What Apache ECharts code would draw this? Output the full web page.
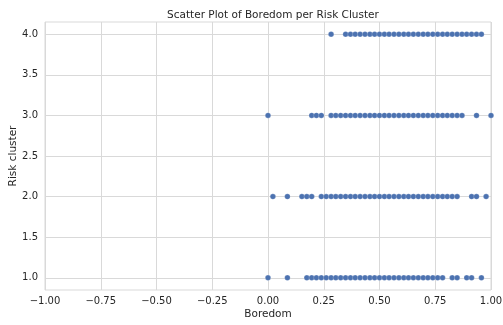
<!DOCTYPE html>
<html>
<head>
<meta charset="utf-8">
<script src="https://cdn.jsdelivr.net/npm/echarts@6/dist/echarts.min.js"></script>
<style>
  html, body { margin: 0; padding: 0; background: #ffffff; }
  #chart { width: 503px; height: 325px; }
</style>
</head>
<body>
<div id="chart"></div>
<script>
// Boredom scores observed in each risk cluster
const cluster1 = [0.0, 0.087, 0.174, 0.196, 0.217, 0.239, 0.261, 0.283, 0.304, 0.326, 0.348, 0.370, 0.391, 0.413, 0.435, 0.457, 0.478, 0.500, 0.522, 0.543, 0.565, 0.587, 0.609, 0.630, 0.652, 0.674, 0.696, 0.717, 0.739, 0.761, 0.783, 0.826, 0.848, 0.891, 0.913, 0.957];
const cluster2 = [0.022, 0.087, 0.152, 0.174, 0.196, 0.239, 0.261, 0.283, 0.304, 0.326, 0.348, 0.370, 0.391, 0.413, 0.435, 0.457, 0.478, 0.500, 0.522, 0.543, 0.565, 0.587, 0.609, 0.630, 0.652, 0.674, 0.696, 0.717, 0.739, 0.761, 0.783, 0.804, 0.826, 0.848, 0.913, 0.935, 0.978];
const cluster3 = [0.0, 0.196, 0.217, 0.239, 0.283, 0.304, 0.326, 0.348, 0.370, 0.391, 0.413, 0.435, 0.457, 0.478, 0.500, 0.522, 0.543, 0.565, 0.587, 0.609, 0.630, 0.652, 0.674, 0.696, 0.717, 0.739, 0.761, 0.783, 0.804, 0.826, 0.848, 0.870, 0.935, 1.0];
const cluster4 = [0.283, 0.348, 0.370, 0.391, 0.413, 0.435, 0.457, 0.478, 0.500, 0.522, 0.543, 0.565, 0.587, 0.609, 0.630, 0.652, 0.674, 0.696, 0.717, 0.739, 0.761, 0.783, 0.804, 0.826, 0.848, 0.870, 0.891, 0.913, 0.935, 0.957];
const clusters = [1, 2, 3, 4];
const xTicks = [-1.0, -0.75, -0.5, -0.25, 0.0, 0.25, 0.5, 0.75, 1.0];
const yTicks = [1.0, 1.5, 2.0, 2.5, 3.0, 3.5, 4.0];

const points = [];
[cluster1, cluster2, cluster3, cluster4].forEach((vals, i) => {
  vals.forEach(v => points.push([v, clusters[i]]));
});

const textColor = '#262626';
const gridColor = '#d9d9d9';
const font = 'DejaVu Sans';

const chart = echarts.init(document.getElementById('chart'), null, { renderer: 'canvas' });
chart.setOption({
  animation: false,
  backgroundColor: '#ffffff',
  title: {
    text: 'Scatter Plot of Boredom per Risk Cluster',
    left: 268, top: 5, textAlign: 'center',
    textStyle: { fontFamily: font, fontSize: 10.5, fontWeight: 'normal', color: textColor }
  },
  grid: {
    left: 45, right: 12, top: 22, bottom: 35,
    outerBoundsMode: 'none', containLabel: false,
    show: true, borderColor: gridColor, borderWidth: 1
  },
  xAxis: {
    type: 'value', min: -1, max: 1,
    name: 'Boredom', nameLocation: 'middle', nameGap: 19, nameMoveOverlap: false,
    nameTextStyle: { fontFamily: font, fontSize: 10.5, color: textColor },
    axisLine: { show: false }, axisTick: { show: false, customValues: xTicks },
    axisLabel: {
      customValues: xTicks, margin: 6,
      fontFamily: font, fontSize: 10, color: textColor,
      formatter: v => (v < 0 ? '\u2212' : '') + Math.abs(v).toFixed(2)
    },
    splitLine: { show: true, lineStyle: { color: gridColor, width: 1 } }
  },
  yAxis: {
    type: 'value', min: 0.85, max: 4.15,
    name: 'Risk cluster', nameLocation: 'middle', nameGap: 26, nameMoveOverlap: false,
    nameTextStyle: { fontFamily: font, fontSize: 10.5, color: textColor },
    axisLine: { show: false }, axisTick: { show: false, customValues: yTicks },
    axisLabel: {
      customValues: yTicks, margin: 7,
      fontFamily: font, fontSize: 10, color: textColor,
      formatter: v => v.toFixed(1)
    },
    splitLine: { show: true, lineStyle: { color: gridColor, width: 1 } }
  },
  series: [{
    type: 'scatter',
    data: points,
    symbolSize: 5.5,
    itemStyle: { color: '#4c72b0', opacity: 1, borderColor: '#ffffff', borderWidth: 0.2 }
  }]
});
</script>
</body>
</html>
